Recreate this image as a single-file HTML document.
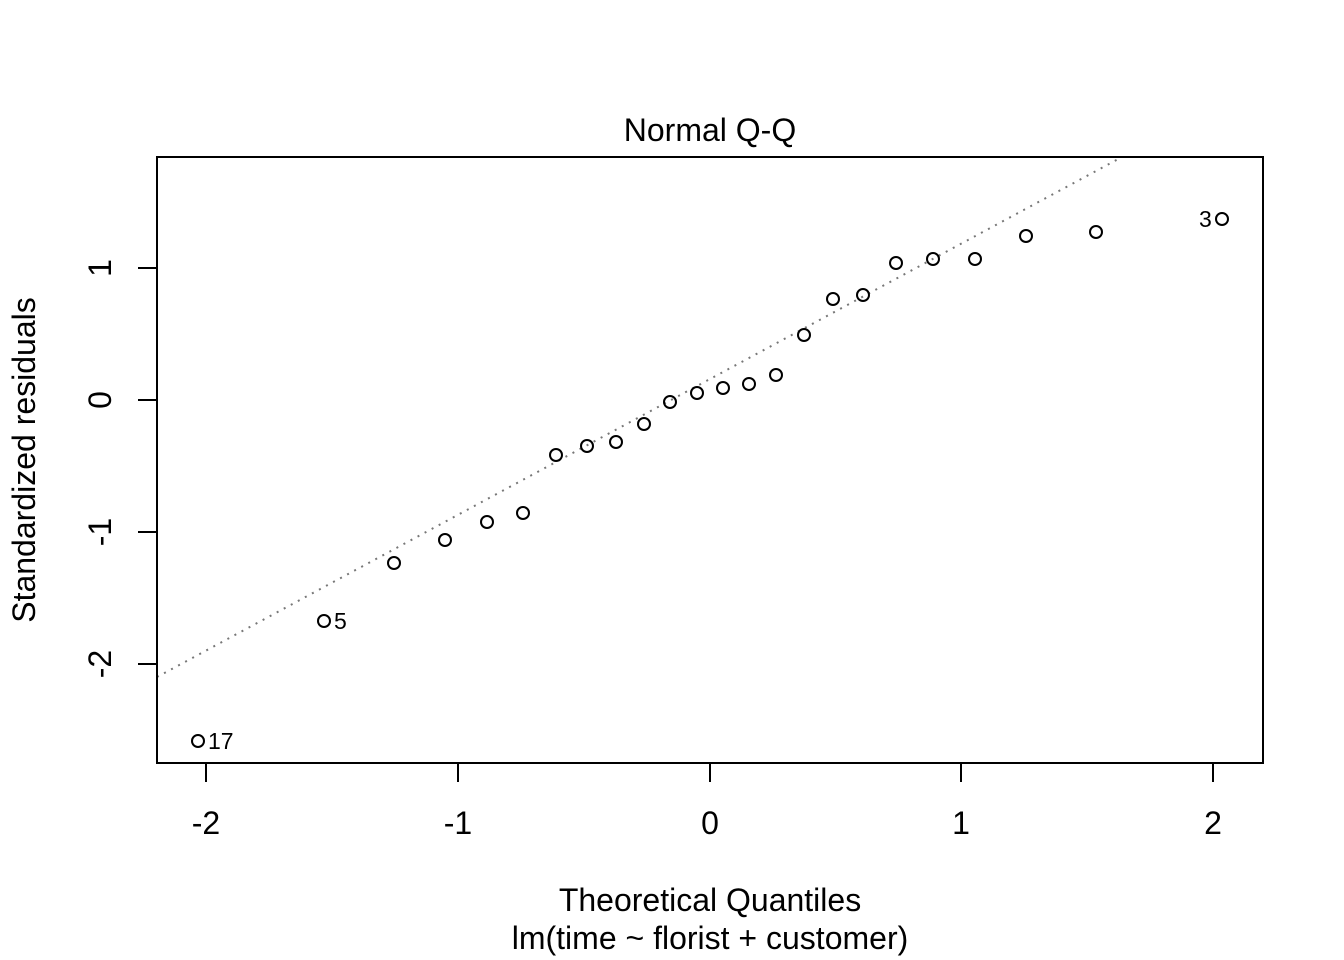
<!DOCTYPE html>
<html><head><style>body{margin:0;background:#fff}svg{display:block}</style></head><body>
<svg width="1344" height="960" viewBox="0 0 1344 960" xmlns="http://www.w3.org/2000/svg" font-family="Liberation Sans, Arial, sans-serif">
<rect width="1344" height="960" fill="#fff"/>
<line x1="157" y1="677" x2="1122" y2="157" stroke="#777" stroke-width="2" stroke-dasharray="2,6"/>
<rect x="157" y="157" width="1106" height="606" fill="none" stroke="#000" stroke-width="2"/>
<g stroke="#000" stroke-width="2">
<line x1="206" y1="763" x2="206" y2="782"/><line x1="458" y1="763" x2="458" y2="782"/><line x1="710" y1="763" x2="710" y2="782"/><line x1="961" y1="763" x2="961" y2="782"/><line x1="1213" y1="763" x2="1213" y2="782"/>
<line x1="157" y1="268" x2="138" y2="268"/><line x1="157" y1="400" x2="138" y2="400"/><line x1="157" y1="532" x2="138" y2="532"/><line x1="157" y1="664" x2="138" y2="664"/>
</g>
<g font-size="32" text-anchor="middle" fill="#000">
<text x="206" y="834">-2</text><text x="458" y="834">-1</text><text x="710" y="834">0</text><text x="961" y="834">1</text><text x="1213" y="834">2</text>
<text transform="translate(111,268) rotate(-90)">1</text>
<text transform="translate(111,400) rotate(-90)">0</text>
<text transform="translate(111,532) rotate(-90)">-1</text>
<text transform="translate(111,664) rotate(-90)">-2</text>
<text x="710" y="141">Normal Q-Q</text>
<text x="710" y="911">Theoretical Quantiles</text>
<text x="710" y="949">lm(time ~ florist + customer)</text>
<text transform="translate(35,460) rotate(-90)">Standardized residuals</text>
</g>
<g fill="none" stroke="#000" stroke-width="2">
<circle cx="198" cy="741" r="6"/><circle cx="324" cy="621" r="6"/><circle cx="394" cy="563" r="6"/><circle cx="445" cy="540" r="6"/><circle cx="487" cy="522" r="6"/><circle cx="523" cy="513" r="6"/><circle cx="556" cy="455" r="6"/><circle cx="587" cy="446" r="6"/><circle cx="616" cy="442" r="6"/><circle cx="644" cy="424" r="6"/><circle cx="670" cy="402" r="6"/><circle cx="697" cy="393" r="6"/><circle cx="723" cy="388" r="6"/><circle cx="749" cy="384" r="6"/><circle cx="776" cy="375" r="6"/><circle cx="804" cy="335" r="6"/><circle cx="833" cy="299" r="6"/><circle cx="863" cy="295" r="6"/><circle cx="896" cy="263" r="6"/><circle cx="933" cy="259" r="6"/><circle cx="975" cy="259" r="6"/><circle cx="1026" cy="236" r="6"/><circle cx="1096" cy="232" r="6"/><circle cx="1222" cy="219" r="6"/>
</g>
<g font-size="23" fill="#000">
<text x="208" y="749">17</text><text x="334" y="629">5</text><text x="1199" y="227">3</text>
</g>
</svg>
</body></html>
